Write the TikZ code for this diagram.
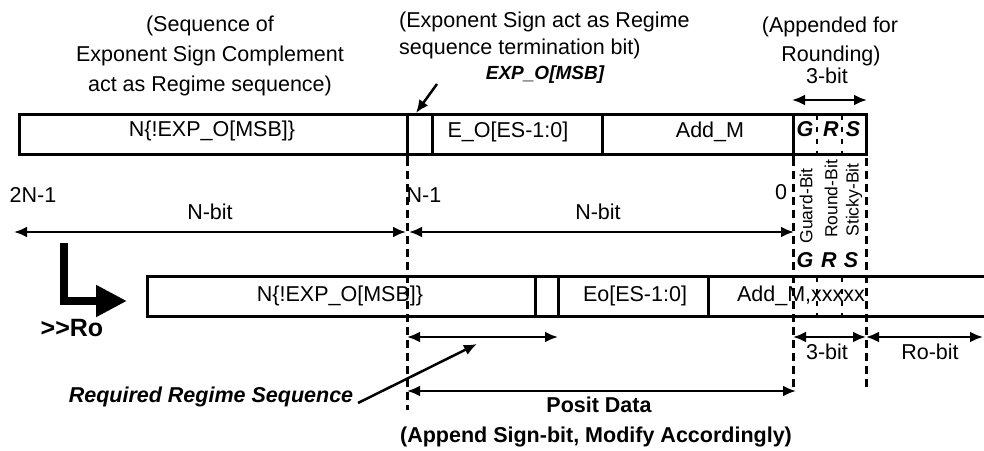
\documentclass[tikz,border=0pt]{standalone}
\usepackage{fontspec}
\setmainfont{Liberation Sans}
\usetikzlibrary{arrows.meta}

\tikzset{
  txt/.style={inner sep=0pt, anchor=base, font=\fontsize{21.5bp}{26bp}\selectfont},
  txtb/.style={inner sep=0pt, anchor=base, font=\fontsize{21.5bp}{26bp}\selectfont\bfseries},
  txtbi/.style={inner sep=0pt, anchor=base, font=\fontsize{21.5bp}{26bp}\selectfont\bfseries\itshape},
  vlbl/.style={inner sep=0pt, rotate=90, font=\fontsize{17.5bp}{20bp}\selectfont},
  reg/.style={draw, line width=3bp, line join=miter},
  sep/.style={line width=3bp},
  gsep/.style={line width=2.5bp, dash pattern=on 5bp off 7bp},
  guide/.style={line width=3bp, dash pattern=on 8bp off 5bp},
  dim/.style={line width=2.5bp, {Latex[length=13bp,width=11bp]}-{Latex[length=13bp,width=11bp]}},
  ptr/.style={line width=2.5bp, -{Latex[length=13bp,width=11bp]}},
  shiftarrow/.style={line width=8bp, line join=miter, line cap=butt, -{Triangle[length=31bp,width=30bp]}}
}

\begin{document}
\begin{tikzpicture}[x=1bp,y=-1bp]
\useasboundingbox (0,0) rectangle (984,451);

% ---------- annotations above the extended register ----------
\node[txt] (c1) at (210,32) {(Sequence of};
\node[txt] (c2) at (210,62) {Exponent Sign Complement};
\node[txt] (c3) at (210,92) {act as Regime sequence)};

\node[txt, anchor=base west] (t1) at (399,28) {(Exponent Sign act as Regime};
\node[txt, anchor=base west] (t2) at (399,55) {sequence termination bit)};
\node[txtbi, font=\fontsize{19bp}{22bp}\selectfont\bfseries\itshape] (msb) at (545,80) {EXP\_O[MSB]};
\coordinate (msbtail) at (437,84);
\coordinate (msbtip) at (416,113);
\draw[ptr] (msbtail) -- (msbtip);

\node[txt] (a1) at (830,33) {(Appended for};
\node[txt] (a2) at (831,62) {Rounding)};
\node[txt] (a3) at (827,84) {3-bit};
\coordinate (g0) at (792,100);
\coordinate (g1) at (867,100);
\draw[dim] (g0) -- (g1);

% ---------- extended register ----------
\draw[reg] (19,115) rectangle (866,155);
\draw[sep] (407,115) -- (407,158);
\draw[sep] (432,115) -- (432,155);
\draw[sep] (602,115) -- (602,155);
\draw[sep] (793,115) -- (793,158);
\draw[gsep] (817,115) -- (817,155);
\draw[gsep] (842,115) -- (842,155);

\node[txt] (r1) at (212,137) {N\{!EXP\_O[MSB]\}};
\node[txt] (r2) at (508,138) {E\_O[ES-1:0]};
\node[txt] (r3) at (710,138) {Add\_M};
\node[txtbi] (rg) at (805,137) {G};
\node[txtbi] (rr) at (831,137) {R};
\node[txtbi] (rs) at (853,137) {S};

% ---------- bit positions ----------
\node[txt] (p2n) at (33,203) {2N-1};
\node[txt] (pn1) at (424,203) {N-1};
\node[txt] (p0) at (781,200) {0};
\node[txt] (nb1) at (210,220) {N-bit};
\node[txt] (nb2) at (598,220) {N-bit};
\coordinate (w0) at (14,232);
\coordinate (w1) at (406,232);
\coordinate (w2) at (409,232);
\coordinate (w3) at (794,232);
\draw[dim] (w0) -- (w1);
\draw[dim] (w2) -- (w3);

\node[vlbl] (vg) at (806,206) {Guard-Bit};
\node[vlbl] (vr) at (831,199) {Round-Bit};
\node[vlbl] (vs) at (854,200) {Sticky-Bit};
\node[txtbi] (lg) at (805,268) {G};
\node[txtbi] (lr) at (829,268) {R};
\node[txtbi] (ls) at (851,268) {S};

% ---------- shifted register ----------
\draw[reg] (990,277) -- (147,277) -- (147,317) -- (990,317);
\draw[sep] (535,277) -- (535,317);
\draw[sep] (558,277) -- (558,317);
\draw[sep] (708,277) -- (708,317);
\draw[gsep] (817,277) -- (817,317);
\draw[gsep] (842,277) -- (842,317);

\node[txt] (s1) at (340,302) {N\{!EXP\_O[MSB]\}};
\node[txt] (s2) at (635,302) {Eo[ES-1:0]};
\node[txt] (s3) at (801,302) {Add\_M,xxxxx};

% shift marker
\coordinate (k0) at (64,243);
\coordinate (k1) at (64,301);
\coordinate (k2) at (127,301);
\draw[shiftarrow] (k0) -- (k1) -- (k2);
\node[txtb, font=\fontsize{25bp}{28bp}\selectfont\bfseries] (ro) at (72,337) {>{}>Ro};

% ---------- guide lines ----------
\draw[guide] (407,158) -- (407,410);
\draw[guide] (793,158) -- (793,392);
\draw[guide] (866,158) -- (866,390);

% ---------- widths below ----------
\coordinate (q0) at (407,337);
\coordinate (q1) at (558,337);
\draw[dim] (q0) -- (q1);
\coordinate (q2) at (793,337);
\coordinate (q3) at (866,337);
\draw[dim] (q2) -- (q3);
\coordinate (q4) at (866,337);
\coordinate (q5) at (983,337);
\draw[dim] (q4) -- (q5);
\node[txt] (b3) at (827,360) {3-bit};
\node[txt] (rob) at (930,360) {Ro-bit};

\node[txtbi] (req) at (211,402) {Required Regime Sequence};
\coordinate (reqtail) at (358,403);
\coordinate (reqtip) at (477,344);
\draw[ptr] (reqtail) -- (reqtip);

\coordinate (d0) at (407,391);
\coordinate (d1) at (796,391);
\draw[dim] (d0) -- (d1);
\node[txtb] (pd) at (599,412) {Posit Data};
\node[txtb] (ap) at (596,442) {(Append Sign-bit, Modify Accordingly)};
\end{tikzpicture}
\end{document}
